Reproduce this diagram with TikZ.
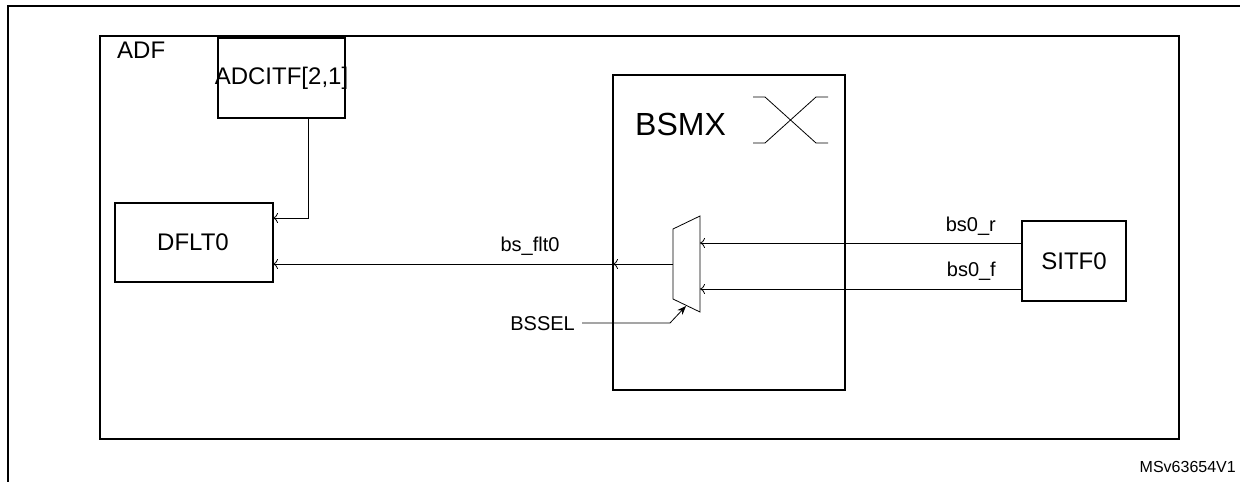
\documentclass[tikz,border=0pt]{standalone}
\usepackage{fontspec}
\setmainfont{Liberation Sans}
\usetikzlibrary{arrows.meta}
\begin{document}
\begin{tikzpicture}[x=1pt,y=-1pt,
  box/.style={draw,line width=1.6pt},
  wire/.style={line width=0.8pt},
  big/.style={font=\fontsize{24}{28}\selectfont,inner sep=0pt},
  lab/.style={font=\fontsize{20}{24}\selectfont,inner sep=0pt},
  oa/.style={-{To[length=5pt,width=10pt]}}]
\useasboundingbox (0,0) rectangle (1240,482);
\draw[line width=1.4pt] (8,482) -- (8,6) -- (1240,6);
\draw[box] (100,36) rectangle (1179,439);
\node[big,anchor=north west] (adf) at (117,42) {ADF};
\draw[box] (218,38) rectangle (345,118);
\node[big] (adcitf) at (281.5,78) {ADCITF[2,1]};
\draw[box] (115,203) rectangle (273,282);
\node[big] (dflt) at (193,242) {DFLT0};
\coordinate (dfltA) at (273,218);
\coordinate (dfltB) at (273,264);
\draw[box] (613,75) rectangle (845,390);
\node[font=\fontsize{32}{36}\selectfont,inner sep=0pt,anchor=west] (bsmx) at (635,124) {BSMX};
\draw[wire] (753,97) -- (765,97) -- (816,143) -- (828,143);
\draw[wire] (753,143) -- (765,143) -- (816,97) -- (828,97);
\draw[box] (1022,221) rectangle (1126,301);
\node[big] (sitf) at (1074,261) {SITF0};
% mux
\draw[wire] (673,229) -- (700,216) -- (700,312) -- (673,299) -- cycle;
\coordinate (muxo) at (673,264);
\coordinate (bsl) at (613,264);
\coordinate (mi1) at (700,243);
\coordinate (mi2) at (700,289);
\coordinate (si1) at (1022,243);
\coordinate (si2) at (1022,289);
\coordinate (sel) at (686,306);
\draw[wire] (308,118) -- (308,218) [oa]-- (dfltA);
\draw[wire,oa] (muxo) -- (bsl);
\draw[wire,oa] (bsl) -- (dfltB);
\draw[wire,oa] (si1) -- (mi1);
\draw[wire,oa] (si2) -- (mi2);
\node[lab,anchor=south] (l1) at (530,256) {bs\_flt0};
\node[lab,anchor=south east] (l2) at (996,236) {bs0\_r};
\node[lab,anchor=south east] (l3) at (996,281) {bs0\_f};
\node[lab,anchor=east] (bssel) at (575,324) {BSSEL};
\draw[wire,-{Stealth[length=9pt,width=7pt]}] (582,323) -- (670,323) -- (sel);
\node[font=\fontsize{16}{18}\selectfont,inner sep=0pt,anchor=east] (ms) at (1236,467) {MSv63654V1};
\end{tikzpicture}
\end{document}
